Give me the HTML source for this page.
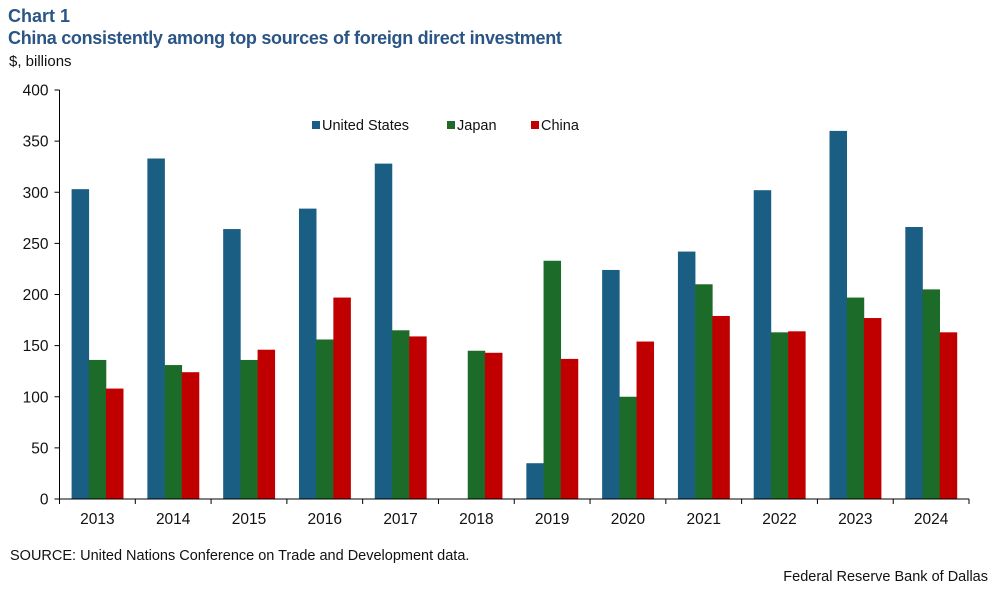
<!DOCTYPE html>
<html><head><meta charset="utf-8"><style>
body{margin:0;background:#fff;width:997px;height:589px;overflow:hidden;font-family:"Liberation Sans",Arial,sans-serif}
</style></head><body>
<svg width="997" height="589" xmlns="http://www.w3.org/2000/svg" font-family="Liberation Sans, Arial, sans-serif">
<text x="8" y="22" font-size="18" font-weight="bold" fill="#2a5585">Chart 1</text>
<text x="8" y="44" font-size="18" font-weight="bold" fill="#2a5585" letter-spacing="-0.3">China consistently among top sources of foreign direct investment</text>
<text x="9" y="66" font-size="15" fill="#111">$, billions</text>
<g id="yaxis"></g>
<g id="bars"></g>
<g id="xaxis"></g>
<g>
<rect x="312" y="121" width="8" height="8" fill="#1a5e83"/>
<text x="322" y="130" font-size="14.5" fill="#111">United States</text>
<rect x="447" y="121" width="8" height="8" fill="#1c6b29"/>
<text x="457" y="130" font-size="14.5" fill="#111">Japan</text>
<rect x="531" y="121" width="8" height="8" fill="#c00000"/>
<text x="541" y="130" font-size="14.5" fill="#111">China</text>
</g>
<text x="10" y="560" font-size="14.5" fill="#111">SOURCE: United Nations Conference on Trade and Development data.</text>
<text x="988" y="581" font-size="14.5" fill="#111" text-anchor="end">Federal Reserve Bank of Dallas</text>
</svg>
<script>
const categories=["2013","2014","2015","2016","2017","2018","2019","2020","2021","2022","2023","2024"];
const usValues=[303,333,264,284,328,0,35,224,242,302,360,266];
const japanValues=[136,131,136,156,165,145,233,100,210,163,197,205];
const chinaValues=[108,124,146,197,159,143,137,154,179,164,177,163];
const yTicks=[0,50,100,150,200,250,300,350,400];
const NS="http://www.w3.org/2000/svg";
const x0=59.5,x1=969,yBase=499,yTop=90,yMax=400;
const band=(x1-x0)/categories.length;
const y=v=>yBase-(v/yMax)*(yBase-yTop);
function mk(tag,attrs,parent){const e=document.createElementNS(NS,tag);for(const k in attrs)e.setAttribute(k,attrs[k]);parent.appendChild(e);return e;}
const ya=document.getElementById('yaxis'),xa=document.getElementById('xaxis'),bg=document.getElementById('bars');
const yl=mk('line',{x1:x0,x2:x0,y1:yTop,y2:yBase,stroke:'#000','stroke-width':1},ya);


yTicks.forEach(t=>{
 const l=mk('line',{x1:x0-5,x2:x0,y1:y(t),y2:y(t),stroke:'#000'},ya);
 
 
 const tx=mk('text',{x:x0-11,y:y(t)+5.5,'font-size':15.5,'text-anchor':'end',fill:'#111'},ya);
 tx.textContent=t;
 
 
});
const series=[[usValues,'#1a5e83','us'],[japanValues,'#1c6b29','japan'],[chinaValues,'#c00000','china']];
const bw=17.2;
categories.forEach((c,i)=>{
 const cx=x0+band*(i+0.5);
 series.forEach((s,j)=>{
  const v=s[0][i];if(!v)return;
  const r=mk('rect',{x:cx-bw*1.5+j*bw,y:y(v),width:bw+0.3,height:yBase-y(v),fill:s[1]},bg);
  
  
 });
 const tx=mk('text',{x:cx,y:yBase+25,'font-size':15.5,'text-anchor':'middle',fill:'#111'},xa);
 tx.textContent=c;
 
 
});
const xl=mk('line',{x1:x0,x2:x1,y1:yBase,y2:yBase,stroke:'#000'},xa);


for(let i=0;i<=categories.length;i++){
 const l=mk('line',{x1:x0+band*i,x2:x0+band*i,y1:yBase,y2:yBase+5,stroke:'#000'},xa);
 
 
}
</script>
</body></html>
